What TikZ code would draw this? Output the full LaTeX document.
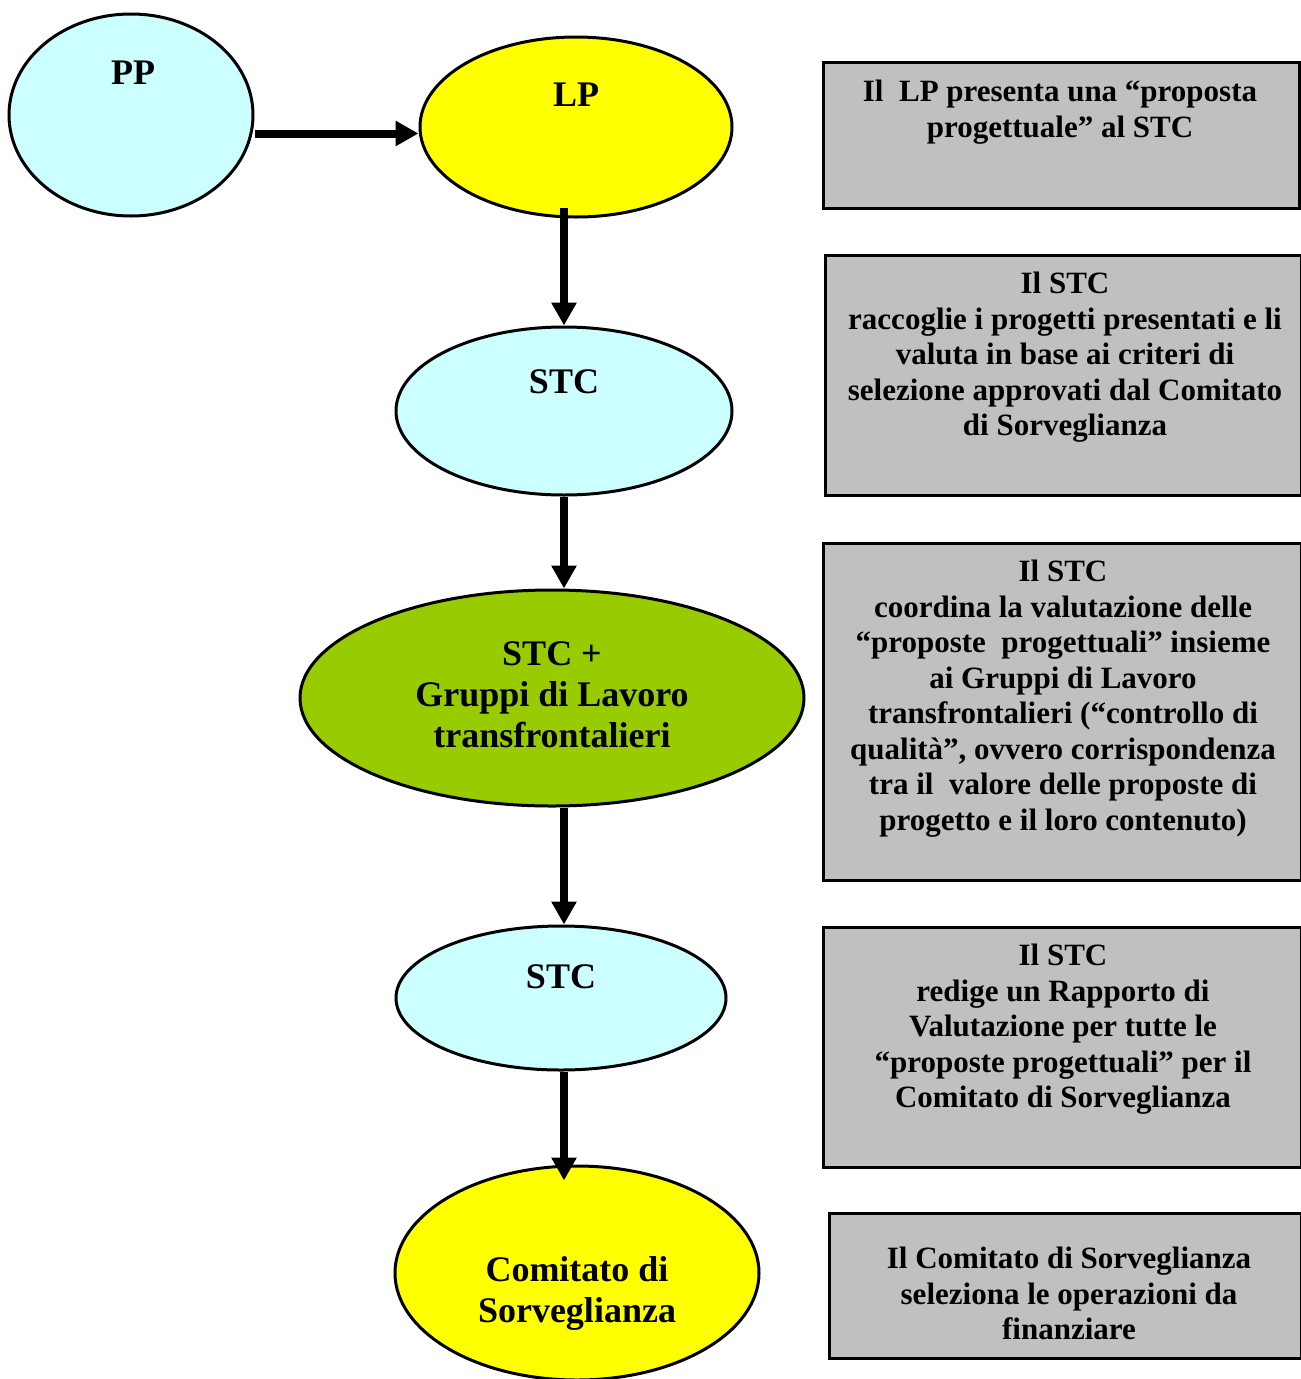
\documentclass[tikz,border=0pt]{standalone}
\usepackage{fontspec}
\setmainfont{Liberation Serif}
\usetikzlibrary{shapes.geometric,arrows.meta}
\definecolor{lcyan}{HTML}{CCFFFF}
\definecolor{lyellow}{HTML}{FFFF00}
\definecolor{lgreen}{HTML}{99CC00}
\definecolor{lgray}{HTML}{C0C0C0}
\begin{document}
\begin{tikzpicture}[x=1pt,y=-1pt,
  ell/.style={ellipse,draw=black,line width=3pt,inner sep=0pt},
  gbox/.style={rectangle,draw=black,fill=lgray,line width=3pt,anchor=north west,inner sep=0pt},
  btext/.style={anchor=north,inner sep=0pt,align=center,font=\fontsize{31}{35.5}\selectfont\bfseries},
  etext/.style={anchor=north,inner sep=0pt,align=center,font=\fontsize{36}{41}\selectfont\bfseries},
  arr/.style={line width=8pt,-{Triangle[length=23pt,width=24pt]}}]
\useasboundingbox (0,0) rectangle (1301,1379);
\clip (0,0) rectangle (1301,1379);
% ellipses
\node[ell,fill=lcyan,minimum width=244pt,minimum height=202pt] (pp) at (131,115) {};
\node[ell,fill=lyellow,minimum width=312pt,minimum height=180pt] (lp) at (576,127) {};
\node[ell,fill=lcyan,minimum width=336pt,minimum height=168pt] (stca) at (564,411) {};
\node[ell,fill=lgreen,minimum width=504pt,minimum height=216pt] (grp) at (552,698) {};
\node[ell,fill=lcyan,minimum width=330pt,minimum height=144pt] (stcb) at (561,998) {};
\node[ell,fill=lyellow,minimum width=364pt,minimum height=214pt] (com) at (577,1273) {};
% ellipse texts
\node[etext] (tpp) at (133,61) {PP};
\node[etext] (tlp) at (576,83) {LP};
\node[etext] (tstca) at (564,369) {STC};
\node[etext] (tgrp) at (552,641) {STC +\\Gruppi di Lavoro\\transfrontalieri};
\node[etext] (tstcb) at (561,964) {STC};
\node[etext] (tcom) at (577,1256) {Comitato di\\Sorveglianza};
% arrows
\draw[arr] ([yshift=-6.5pt]pp.east |- lp.west) -- ([yshift=-6.5pt]lp.west);
\draw[arr] ([yshift=11pt]lp.south -| stca.north) -- (stca.north);
\draw[arr] (stca.south) -- (stca.south |- grp.north);
\draw[arr] (grp.south -| stca.north) -- (stcb.north -| stca.north);
\draw[arr] (stcb.south -| stca.north) -- ([yshift=-16pt]com.north -| stca.north);
% boxes
\node[gbox,minimum width=476pt,minimum height=146pt] (b1) at (822,61) {};
\node[gbox,minimum width=476pt,minimum height=240pt] (b2) at (824,254) {};
\node[gbox,minimum width=478pt,minimum height=337pt] (b3) at (822,542) {};
\node[gbox,minimum width=478pt,minimum height=240pt] (b4) at (822,926) {};
\node[gbox,minimum width=472pt,minimum height=145pt] (b5) at (828,1212) {};
% box texts
\node[btext] (t1) at (1060,80) {Il\ \ LP presenta una “proposta\\progettuale” al STC};
\node[btext] (t2) at (1065,272) {Il STC\\raccoglie i progetti presentati e li\\valuta in base ai criteri di\\selezione approvati dal Comitato\\di Sorveglianza};
\node[btext] (t3) at (1063,560) {Il STC\\coordina la valutazione delle\\“proposte\ \ progettuali” insieme\\ai Gruppi di Lavoro\\transfrontalieri (“controllo di\\qualità”, ovvero corrispondenza\\tra il\ \ valore delle proposte di\\progetto e il loro contenuto)};
\node[btext] (t4) at (1063,944) {Il STC\\redige un Rapporto di\\Valutazione per tutte le\\“proposte progettuali” per il\\Comitato di Sorveglianza};
\node[btext] (t5) at (1069,1247) {Il Comitato di Sorveglianza\\seleziona le operazioni da\\finanziare};
\end{tikzpicture}
\end{document}
